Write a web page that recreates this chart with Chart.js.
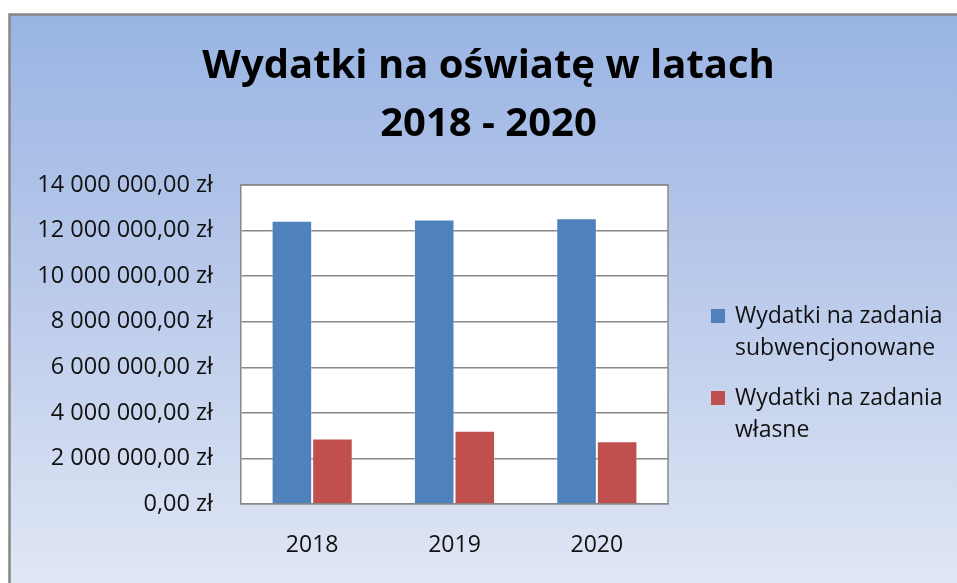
<!DOCTYPE html>
<html>
<head>
<meta charset="utf-8">
<script src="https://cdn.jsdelivr.net/npm/chart.js@4/dist/chart.umd.min.js"></script>
<style>
  html, body { margin: 0; padding: 0; background: #fff; overflow: hidden; }
</style>
</head>
<body>
<canvas id="wydatkiChart" width="957" height="583"></canvas>
<script>
// data
var years = ['2018', '2019', '2020'];
var subwencjonowane = [12430000, 12490000, 12540000];
var wlasne = [2880000, 3220000, 2750000];
var seriesNames = ['Wydatki na zadania subwencjonowane', 'Wydatki na zadania własne'];
var titleLines = ['Wydatki na oświatę w latach', '2018 - 2020'];
var yMax = 14000000;
var yStep = 2000000;

// 12345.6 -> "12 345,60 zł"
function zl(v) {
    var p = Number(v).toFixed(2).split('.');
    return p[0].replace(/\B(?=(\d{3})+(?!\d))/g, ' ') + ',' + p[1] + ' zł';
}

var FONT = '"Open Sans", "DejaVu Sans", sans-serif';

// gradient panel, outer frame and white plot area
var panelPlugin = {
    id: 'panel',
    beforeDraw: function(chart) {
        var ctx = chart.ctx, a = chart.chartArea;
        ctx.save();
        ctx.fillStyle = '#fff';
        ctx.fillRect(0, 0, chart.width, chart.height);
        var g = ctx.createLinearGradient(0, 14, 0, chart.height);
        g.addColorStop(0, '#99b4e3');
        g.addColorStop(0.5, '#bccbeb');
        g.addColorStop(1, '#e0e7f5');
        ctx.fillStyle = g;
        ctx.fillRect(9, 14, chart.width - 9, chart.height - 14);
        ctx.strokeStyle = '#878787';
        ctx.lineWidth = 2.5;
        ctx.beginPath();
        ctx.moveTo(9.5, chart.height);
        ctx.lineTo(9.5, 14.5);
        ctx.lineTo(chart.width, 14.5);
        ctx.stroke();
        ctx.fillStyle = '#fff';
        ctx.fillRect(a.left, a.top, a.right - a.left, a.bottom - a.top);
        ctx.restore();
    },
    afterDraw: function(chart) {
        var ctx = chart.ctx, a = chart.chartArea;
        ctx.save();
        // top and right edge of the plot area
        ctx.strokeStyle = '#8a8a8a';
        ctx.lineWidth = 1.5;
        ctx.beginPath();
        ctx.moveTo(a.left, a.top);
        ctx.lineTo(a.right, a.top);
        ctx.lineTo(a.right, a.bottom);
        ctx.stroke();

        // legend with wrapped labels
        ctx.font = '23px ' + FONT;
        ctx.textBaseline = 'alphabetic';
        ctx.textAlign = 'left';
        var sq = 14, sqX = 711, txtX = 735, maxW = 218;
        var baseline = 323;
        chart.data.datasets.forEach(function(ds) {
            var words = ds.label.split(' '), lines = [], cur = '';
            words.forEach(function(w) {
                var t = cur ? cur + ' ' + w : w;
                if (cur && ctx.measureText(t).width > maxW) { lines.push(cur); cur = w; }
                else cur = t;
            });
            lines.push(cur);
            ctx.fillStyle = ds.backgroundColor;
            ctx.fillRect(sqX, baseline - sq, sq, sq);
            ctx.fillStyle = '#111';
            lines.forEach(function(l, i) {
                ctx.fillText(l, txtX, baseline + i * 31.5);
            });
            baseline += lines.length * 31.5 + 19;
        });
        ctx.restore();
    }
};

var ctx = document.getElementById('wydatkiChart').getContext('2d');

var chart = new Chart(ctx, {
    type: 'bar',
    data: {
        labels: years,
        datasets: [{
            label: seriesNames[0],
            data: subwencjonowane,
            backgroundColor: '#4f81bd',
            borderColor: 'rgba(255,255,255,0.35)',
            borderWidth: 1
        }, {
            label: seriesNames[1],
            data: wlasne,
            backgroundColor: '#c0504d',
            borderColor: 'rgba(255,255,255,0.35)',
            borderWidth: 1
        }]
    },
    options: {
        responsive: false,
        animation: false,
        categoryPercentage: 0.57,
        barPercentage: 1.0,
        layout: { padding: { left: 20, right: 0, top: 0, bottom: 0 } },
        plugins: {
            legend: { display: false },
            tooltip: { enabled: false },
            title: {
                display: true,
                text: titleLines,
                color: '#000',
                font: { family: FONT, size: 40, weight: 'bold', lineHeight: 57.5 / 40 },
                padding: { top: 38, bottom: 32 }
            }
        },
        scales: {
            x: {
                grid: { display: false, drawTicks: false },
                border: { color: '#878787', width: 1.5 },
                ticks: { color: '#111', font: { family: FONT, size: 23 }, padding: 28 },
                afterFit: function(s) { s.height = 79; }
            },
            y: {
                min: 0,
                max: yMax,
                grid: { color: '#878787', lineWidth: 1.5, drawTicks: false },
                border: { color: '#878787', width: 1.5 },
                ticks: {
                    stepSize: yStep,
                    color: '#111',
                    font: { family: FONT, size: 23.5 },
                    padding: 28,
                    callback: function(v) { return zl(v); }
                },
                afterFit: function(s) { s.width = 221; }
            },
            // empty right-hand axis that reserves room for the legend
            legendRoom: {
                type: 'linear',
                position: 'right',
                display: true,
                grid: { display: false, drawTicks: false },
                border: { display: false },
                ticks: { display: false },
                afterFit: function(s) { s.width = 289; }
            }
        }
    },
    plugins: [panelPlugin]
});
</script>
</body>
</html>
